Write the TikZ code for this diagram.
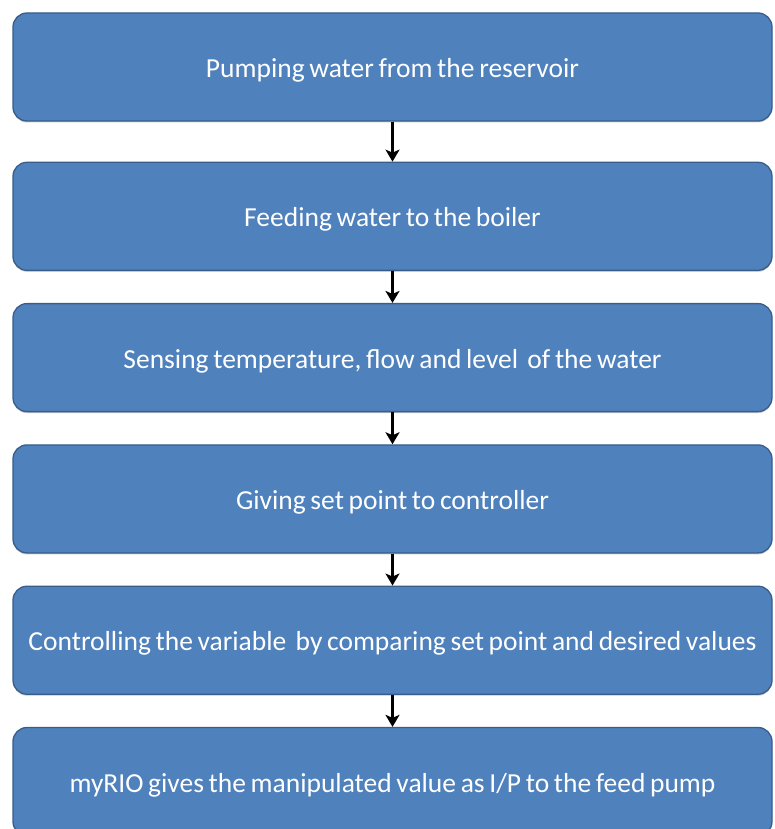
\documentclass[tikz,border=0pt]{standalone}
\usepackage{fontspec}
\setmainfont{Carlito}
\usetikzlibrary{arrows.meta,positioning,shadows}
\definecolor{stepblue}{HTML}{4F81BD}
\definecolor{stepedge}{HTML}{385D8A}
\newcommand{\stepfont}{\fontsize{27.5}{31}\selectfont\spaceskip=0.17em plus 0.05em\relax}
\tikzset{
    stepbox/.style={rectangle, draw=stepedge, fill=stepblue, line width=1.3pt, rounded corners=14pt,
        minimum width=759pt, minimum height=108pt, text height=25pt, text depth=4pt,
        text=white, font=\stepfont,
        drop shadow={shadow xshift=0pt, shadow yshift=-1.5pt, opacity=0.35, fill=black!60}},
    arrow/.style={-{Stealth[length=12pt, width=14pt, inset=3pt]}, line width=2.4pt, black}
}

\begin{document}
\begin{tikzpicture}[x=1pt, y=1pt, node distance=32pt]
\useasboundingbox (0,0) rectangle (774,-829);
\clip (0,0) rectangle (774,-829);

% Steps
\node[stepbox] (pump) at (392.5,-67) {Pumping water from the reservoir};
\node[stepbox, below=40pt of pump] (feed) {Feeding water to the boiler};
\node[stepbox, below=of feed] (sense) {Sensing temperature, flow and level\ \ of the water};
\node[stepbox, below=of sense] (setpt) {Giving set point to controller};
\node[stepbox, below=of setpt] (ctrl) {Controlling the variable\ \ by comparing set point and desired values};
\node[stepbox, below=of ctrl] (myrio) {myRIO gives the manipulated value as I/P to the feed pump};

% Arrows
\draw[arrow] (pump) -- (feed);
\draw[arrow] (feed) -- (sense);
\draw[arrow] (sense) -- (setpt);
\draw[arrow] (setpt) -- (ctrl);
\draw[arrow] (ctrl) -- (myrio);

\end{tikzpicture}
\end{document}
